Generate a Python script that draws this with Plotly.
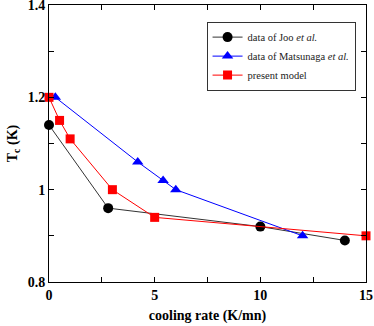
import plotly.graph_objects as go

joo_x = [0, 2.8, 10, 14]
joo_y = [1.14, 0.96, 0.92, 0.89]
mats_x = [0.3, 4.2, 5.4, 6, 12]
mats_y = [1.2, 1.06, 1.02, 1.0, 0.9]
model_x = [0, 0.5, 1, 3, 5, 15]
model_y = [1.2, 1.15, 1.11, 1.0, 0.94, 0.9]

serif = "Liberation Serif"

fig = go.Figure()
fig.add_trace(go.Scatter(x=joo_x, y=joo_y, mode='lines+markers', name='data of Joo <i>et al.</i>',
                         line=dict(color='#333333', width=1),
                         marker=dict(symbol='circle', size=10, color='black'), cliponaxis=False))
fig.add_trace(go.Scatter(x=mats_x, y=mats_y, mode='lines+markers', name='data of Matsunaga <i>et al.</i>',
                         line=dict(color='blue', width=1),
                         marker=dict(symbol='triangle-up', size=10, color='blue'), cliponaxis=False))
fig.add_trace(go.Scatter(x=model_x, y=model_y, mode='lines+markers', name='present model',
                         line=dict(color='red', width=1),
                         marker=dict(symbol='square', size=9, color='red'), cliponaxis=False))

axis_common = dict(showline=True, linecolor='black', linewidth=1, mirror='ticks',
                   ticks='inside', ticklen=5, tickcolor='black', showgrid=False, zeroline=False,
                   automargin=False, ticklabeloverflow='allow',
                   tickfont=dict(family=serif, size=14, color='black', weight='bold'))
fig.update_xaxes(range=[0, 15], dtick=5, minor=dict(dtick=2.5, ticks='inside', ticklen=5, tickcolor='black'),
                 title=dict(text='<b>cooling rate (K/mn)</b>', font=dict(family=serif, size=14, color='black'),
                            standoff=8),
                 **axis_common)
fig.update_yaxes(range=[0.8, 1.4], dtick=0.2, minor=dict(dtick=0.1, ticks='inside', ticklen=5, tickcolor='black'),
                 title=dict(text='<b>T<sub>c</sub> (K)</b>', font=dict(family=serif, size=14, color='black'),
                            standoff=6),
                 **axis_common)
fig.update_layout(width=374, height=326, margin=dict(l=49, r=8, t=5, b=44),
                  plot_bgcolor='white', paper_bgcolor='white',
                  font=dict(family=serif, color='black'),
                  legend=dict(x=0.497, y=0.94, xanchor='left', yanchor='top',
                              bordercolor='#333333', borderwidth=1, bgcolor='white',
                              font=dict(family=serif, size=10.5, color='#222222'),
                              tracegroupgap=0, itemwidth=30))
# the page body has an 8px default margin; drop it so the figure sits at the window corner
fig.write_html("out.html", config={'displayModeBar': False},
               post_script="document.body.style.margin='0';")
